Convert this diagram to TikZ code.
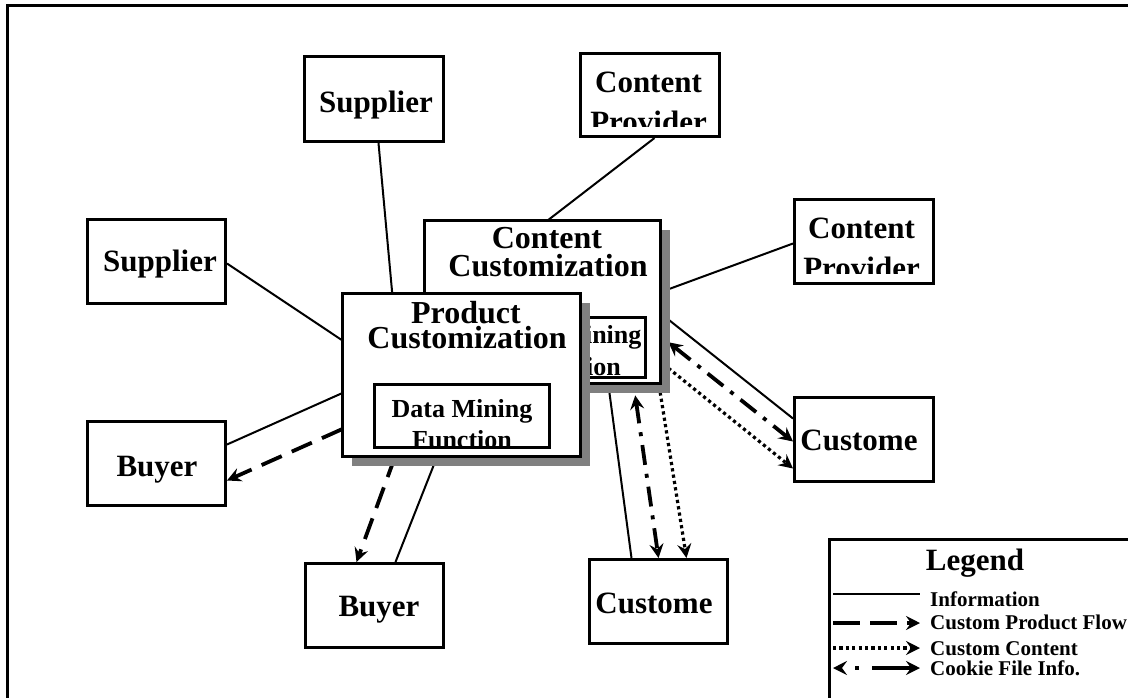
\documentclass[tikz,border=0pt]{standalone}
\usepackage{fontspec}
\setmainfont{Liberation Serif}
\usetikzlibrary{arrows.meta}
\definecolor{shadowgray}{RGB}{128,128,128}
\begin{document}
\begin{tikzpicture}[x=1pt,y=-1pt,
  >={Stealth[length=14pt,width=14pt,inset=5pt]},
  box/.style={draw, line width=3pt, fill=white, inner sep=0pt, anchor=north west},
  big/.style={font=\fontsize{31}{37}\selectfont\bfseries, inner sep=0pt, anchor=base},
  title/.style={font=\fontsize{32}{38}\selectfont\bfseries, inner sep=0pt, anchor=base,
                text height=23pt, text depth=0pt},
  mid/.style={font=\fontsize{26}{31}\selectfont\bfseries, inner sep=0pt, anchor=base},
  small/.style={font=\fontsize{21}{25}\selectfont\bfseries, inner sep=0pt, anchor=base west},
  info/.style={line width=2pt},
  prodflow/.style={line width=3.8pt, dash pattern=on 22pt off 11pt, ->},
  contentflow/.style={line width=3.2pt, dash pattern=on 3.2pt off 3.2pt, ->},
  cookieflow/.style={line width=3.8pt, dash pattern=on 20pt off 9pt on 4pt off 9pt, <->},
  shadow/.style={fill=shadowgray, draw=none}
]
\useasboundingbox (0,0) rectangle (1128,697);
\clip (0,0) rectangle (1128,697);

% outer frame (runs off the page on the right and bottom)
\draw[line width=3pt] (1140,5) -- (7,5) -- (7,710);

% ---------- outer boxes ----------
\node[box, minimum width=139pt, minimum height=85pt] (sup1) at (303,55) {};
\node[box, minimum width=139pt, minimum height=83pt] (cp1) at (579,52) {};
\node[box, minimum width=138pt, minimum height=84pt] (sup2) at (86,218) {};
\node[box, minimum width=139pt, minimum height=84pt] (cp2) at (793,198) {};
\node[box, minimum width=138pt, minimum height=84pt] (buy1) at (86,420) {};
\node[box, minimum width=138pt, minimum height=84pt] (buy2) at (304,562) {};
\node[box, minimum width=139pt, minimum height=84pt] (cus1) at (793,396) {};
\node[box, minimum width=138pt, minimum height=84pt] (cus2) at (588,558) {};

% central boxes: outlines first, drawn over the connectors further below
\node[inner sep=0pt, minimum width=236pt, minimum height=163pt, anchor=north west] (cc) at (424,220) {};
\node[inner sep=0pt, minimum width=238pt, minimum height=163pt, anchor=north west] (prod) at (342,293) {};

% ---------- connectors ----------
\draw[info] ([xshift=4.5pt]sup1.south) -- ([xshift=-69pt]prod.north);
\draw[info] ([yshift=-2pt]sup2.east) -- ([yshift=34.5pt]prod.west);
\draw[info] ([yshift=19pt]buy1.east) -- ([yshift=-18.5pt]prod.west);
\draw[prodflow] ([yshift=-54.5pt]prod.west) -- ([yshift=-17pt]buy1.east);
\draw[prodflow] ([xshift=-66pt]prod.south) -- ([xshift=-18pt]buy2.north);
\draw[info] ([xshift=-24pt]prod.south) -- ([xshift=21pt]buy2.north);

\draw[info] ([xshift=4.5pt]cp1.south) -- ([xshift=6pt]cc.north);
\draw[info] ([yshift=-2pt]cp2.west) -- ([yshift=9.5pt]cc.east);
\draw[info] ([yshift=-11.5pt]cc.east) -- ([yshift=21pt]cus1.west);
\draw[cookieflow] ([xshift=8pt,yshift=-40.5pt]cc.east) -- ([yshift=-2pt]cus1.west);
\draw[contentflow] ([xshift=8pt,yshift=-66.5pt]cc.east) -- ([yshift=-29pt]cus1.west);
\draw[info] ([xshift=66pt]cc.south) -- ([xshift=-27pt]cus2.north);
\draw[cookieflow] ([xshift=93pt,yshift=-12pt]cc.south) -- (cus2.north);
\draw[contentflow] ([xshift=118pt,yshift=-9pt]cc.south) -- ([xshift=28pt]cus2.north);

% ---------- box labels ----------
\node[big] (sup1t) at (376,112) {Supplier};
\node[big] (sup2t) at (160,271) {Supplier};
\node[big] (buy1t) at (157,476) {Buyer};
\node[big] (buy2t) at (379,616) {Buyer};
\node[big] (cus1t) at (859,450) {Custome};
\node[big] (cus2t) at (654,613) {Custome};
\begin{scope}
  \clip (cp1.north west) rectangle ([yshift=12pt]cp1.south east);
  \node[big] (cp1a) at (648.5,92) {Content};
  \node[big] (cp1b) at (648.5,132) {Provider};
\end{scope}
\begin{scope}
  \clip (cp2.north west) rectangle ([yshift=12pt]cp2.south east);
  \node[big] (cp2a) at (861.5,238) {Content};
  \node[big] (cp2b) at (861.5,278) {Provider};
\end{scope}

% ---------- content customization ----------
\fill[shadow] ([xshift=10pt,yshift=-10pt]cc.north west) rectangle ([xshift=10pt,yshift=-10pt]cc.south east);
\draw[line width=3pt, fill=white] (cc.north west) rectangle (cc.south east);
\node[title] (cca) at (547,248) {Content};
\node[title] (ccb) at (548,276) {Customization};
\node[box, minimum width=174pt, minimum height=60pt] (ccdm) at (470,316) {};
\begin{scope}
  \clip ([xshift=1.5pt,yshift=-1.5pt]ccdm.north west) rectangle ([xshift=-1.5pt,yshift=1.5pt]ccdm.south east);
  \node[mid] (ccdma) at (571,343) {Data Mining};
  \node[mid] (ccdmb) at (571,375) {Function};
\end{scope}

% ---------- product customization ----------
\fill[shadow] ([xshift=10pt,yshift=-10pt]prod.north west) rectangle ([xshift=10pt,yshift=-10pt]prod.south east);
\draw[line width=3pt, fill=white] (prod.north west) rectangle (prod.south east);
\node[title] (proda) at (466,323) {Product};
\node[title] (prodb) at (467,348) {Customization};
\node[box, minimum width=175pt, minimum height=63pt] (proddm) at (373,383) {};
\begin{scope}
  \clip ([xshift=1.5pt,yshift=-1.5pt]proddm.north west) rectangle ([xshift=-1.5pt,yshift=1.5pt]proddm.south east);
  \node[mid] (proddma) at (462,417) {Data Mining};
  \node[mid] (proddmb) at (462,448) {Function};
\end{scope}

% ---------- legend ----------
\node[box, minimum width=400pt, minimum height=300pt] (legend) at (828,538) {};
\node[big] (legendt) at (975,570) {Legend};
\coordinate (l1a) at (833,594); \coordinate (l1b) at (920,594);
\coordinate (l2a) at (833,623); \coordinate (l2b) at (920,623);
\coordinate (l3a) at (833,648); \coordinate (l3b) at (920,648);
\coordinate (l4a) at (833,668); \coordinate (l4b) at (920,668);
\draw[info] (l1a) -- (l1b);
\draw[prodflow, dash pattern=on 27pt off 10pt] (l2a) -- (l2b);
\draw[contentflow] (l3a) -- (l3b);
\draw[cookieflow, dash pattern=on 0pt off 14pt on 4pt off 13pt on 40pt] (l4a) -- (l4b);
\node[small] (l1t) at (930,606) {Information};
\node[small] (l2t) at (930,629) {Custom Product Flow};
\node[small] (l3t) at (930,655) {Custom Content};
\node[small] (l4t) at (930,675) {Cookie File Info.};
\end{tikzpicture}
\end{document}
